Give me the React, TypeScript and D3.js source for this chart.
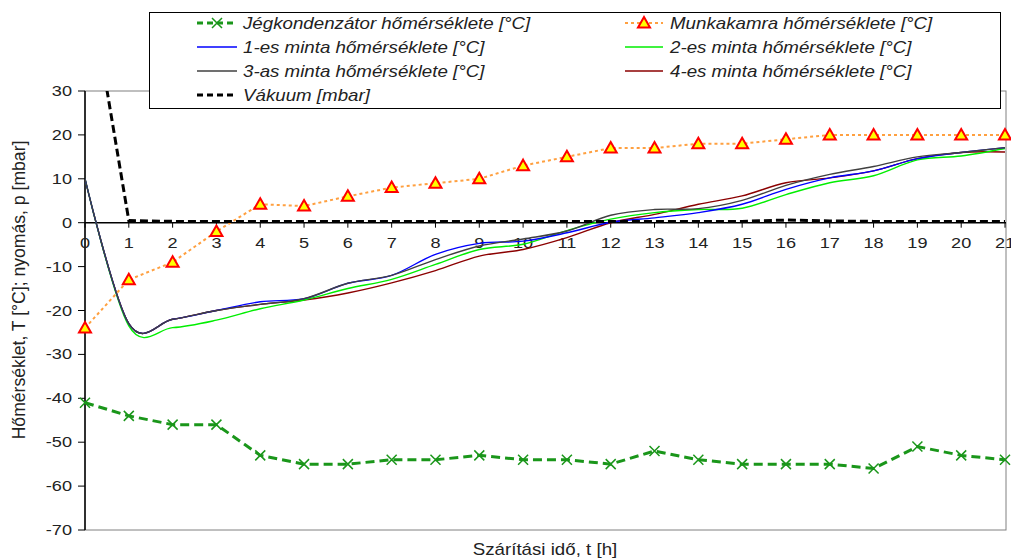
import * as d3 from "d3";

const hours = d3.range(0, 22);

const condenser = [-41, -44, -46, -46, -53, -55, -55, -54, -54, -53, -54, -54, -55, -52, -54, -55, -55, -55, -56, -51, -53, -54];
const chamber = [-24, -13, -9, -2, 4.2, 3.8, 6, 8, 9, 10, 13, 15, 17, 17, 18, 18, 19, 20, 20, 20, 20, 20];
const sample1 = [10, -23, -22, -20, -18, -17.3, -13.8, -12, -7.2, -4.7, -4.2, -2.3, 0.1, 1.1, 2.3, 4.2, 7.6, 10.2, 11.8, 14.6, 16, 17.1];
const sample2 = [10, -23.5, -23.9, -22.2, -19.6, -17.6, -15, -12.9, -9.5, -6.1, -4.9, -1.8, 0.8, 2.3, 3, 3.3, 6.4, 9.1, 10.7, 14.3, 15.2, 16.9];
const sample3 = [10, -23, -22, -20, -18.6, -17.3, -13.8, -12, -8.4, -5.3, -3.7, -1.9, 1.7, 3, 3.2, 5.1, 8.5, 11, 12.8, 15, 16, 17.1];
const sample4 = [10, -23, -22, -20, -18.6, -17.6, -16, -13.7, -10.9, -7.6, -6.1, -3.4, 0, 1.9, 4.2, 6.1, 9.1, 10.2, 11.8, 14.6, 16, 16.1];
const vacuum = [60, 0.5, 0.3, 0.3, 0.3, 0.3, 0.3, 0.3, 0.3, 0.3, 0.3, 0.3, 0.3, 0.3, 0.3, 0.3, 0.6, 0.4, 0.3, 0.3, 0.3, 0.3];

const yTicks = [30, 20, 10, 0, -10, -20, -30, -40, -50, -60, -70];

const labels = {
  condenser: "Jégkondenzátor hőmérséklete [°C]",
  chamber: "Munkakamra hőmérséklete [°C]",
  s1: "1-es minta hőmérséklete [°C]",
  s2: "2-es minta hőmérséklete [°C]",
  s3: "3-as minta hőmérséklete [°C]",
  s4: "4-es minta hőmérséklete [°C]",
  vacuum: "Vákuum [mbar]",
};

const W = 1011;
const H = 558;
const plot = { left: 85, right: 1006, top: 91, bottom: 530 };
const font = "'Liberation Sans', Arial, sans-serif";
const SX = 1.17; // reference text is drawn a bit wide

function SText({ x, y, anchor = "start", size = 16, italic = false, children }: any) {
  return (
    <text
      transform={`translate(${x},${y}) scale(${SX},1)`}
      textAnchor={anchor}
      dominantBaseline="central"
      fontSize={size}
      fontStyle={italic ? "italic" : "normal"}
      fill="#222"
    >
      {children}
    </text>
  );
}

function Cross({ x, y }: { x: number; y: number }) {
  const s = 5;
  return (
    <path
      d={`M${x - s},${y - s}L${x + s},${y + s}M${x - s},${y + s}L${x + s},${y - s}`}
      stroke="#1a961a"
      strokeWidth={1.5}
    />
  );
}

function Tri({ x, y }: { x: number; y: number }) {
  const s = 6;
  return (
    <path
      d={`M${x},${y - s}L${x + s},${y + s * 0.75}L${x - s},${y + s * 0.75}Z`}
      fill="#ffff00"
      stroke="#ff0000"
      strokeWidth={2}
    />
  );
}

export default function App() {
  const x = d3.scaleLinear().domain([0, 21]).range([plot.left, 1005]);
  const y = d3.scaleLinear().domain([-70, 30]).range([plot.bottom, plot.top]);

  const straight = (vals: number[]) =>
    d3.line<number>().x((_, i) => x(hours[i])).y((d) => y(d))(vals) || "";
  const smooth = (vals: number[]) =>
    d3.line<number>().x((_, i) => x(hours[i])).y((d) => y(d)).curve(d3.curveCardinal.tension(0))(vals) || "";

  const samples = [
    { vals: sample4, color: "#8b0000" },
    { vals: sample2, color: "#00ee00" },
    { vals: sample1, color: "#0000ff" },
    { vals: sample3, color: "#404040" },
  ];

  const legendRows = [23, 47, 71, 95];
  const c1 = { x0: 197, x1: 237, tx: 243 };
  const c2 = { x0: 625, x1: 663, tx: 670 };

  return (
    <svg width={W} height={H} style={{ position: "absolute", left: 0, top: 0, background: "#fff" }} fontFamily={font}>
      <defs>
        <clipPath id="plotclip">
          <rect x={plot.left} y={plot.top} width={plot.right - plot.left} height={plot.bottom - plot.top} />
        </clipPath>
      </defs>

      {/* plot border */}
      <rect x={plot.left} y={plot.top} width={plot.right - plot.left} height={plot.bottom - plot.top} fill="none" stroke="#808080" strokeWidth={1} />

      {/* y axis */}
      <line x1={plot.left} x2={plot.left} y1={plot.top} y2={plot.bottom} stroke="#000" strokeWidth={1.5} />
      {yTicks.map((t) => (
        <g key={t}>
          <line x1={plot.left - 7} x2={plot.left} y1={y(t)} y2={y(t)} stroke="#000" />
          <SText x={plot.left - 13} y={y(t)} anchor="end" size={15.5}>{t}</SText>
        </g>
      ))}

      {/* x axis at zero */}
      <line x1={plot.left} x2={plot.right} y1={y(0)} y2={y(0)} stroke="#000" strokeWidth={1.5} />
      {hours.map((h) => (
        <g key={h}>
          <line x1={x(h)} x2={x(h)} y1={y(0)} y2={y(0) + 5} stroke="#000" />
          <SText x={x(h)} y={y(0) + 20} anchor="middle" size={15.5}>{h}</SText>
        </g>
      ))}

      <g clipPath="url(#plotclip)">
        {samples.map((s, i) => (
          <path key={i} d={smooth(s.vals)} fill="none" stroke={s.color} strokeWidth={1.4} />
        ))}
        <path d={straight(chamber)} fill="none" stroke="#ffa040" strokeWidth={2} strokeDasharray="3,3" />
        <path d={straight(condenser)} fill="none" stroke="#1a961a" strokeWidth={3} strokeDasharray="9,5" />
        <path d={straight(vacuum)} fill="none" stroke="#000" strokeWidth={3} strokeDasharray="8,4" />
      </g>
      {condenser.map((v, i) => (
        <Cross key={i} x={x(hours[i])} y={y(v)} />
      ))}
      {chamber.map((v, i) => (
        <Tri key={i} x={x(hours[i])} y={y(v)} />
      ))}

      {/* axis titles */}
      <SText x={545} y={549} anchor="middle" size={16}>Szárítási idő, t [h]</SText>
      <text transform={`translate(19,290) rotate(-90)`} textAnchor="middle" dominantBaseline="central" fontSize={17.6} fill="#222">
        Hőmérséklet, T [°C]; nyomás, p [mbar]
      </text>

      {/* legend */}
      <rect x={149.5} y={12.5} width={851} height={96} fill="#fff" stroke="#000" strokeWidth={1} />
      <line x1={c1.x0} x2={c1.x1} y1={legendRows[0]} y2={legendRows[0]} stroke="#1a961a" strokeWidth={3} strokeDasharray="6,4" />
      <Cross x={(c1.x0 + c1.x1) / 2} y={legendRows[0]} />
      <SText x={c1.tx} y={legendRows[0]} italic>{labels.condenser}</SText>

      <line x1={c1.x0} x2={c1.x1} y1={legendRows[1]} y2={legendRows[1]} stroke="#0000ff" strokeWidth={1.4} />
      <SText x={c1.tx} y={legendRows[1]} italic>{labels.s1}</SText>

      <line x1={c1.x0} x2={c1.x1} y1={legendRows[2]} y2={legendRows[2]} stroke="#404040" strokeWidth={1.4} />
      <SText x={c1.tx} y={legendRows[2]} italic>{labels.s3}</SText>

      <line x1={c1.x0} x2={c1.x1} y1={legendRows[3]} y2={legendRows[3]} stroke="#000" strokeWidth={3} strokeDasharray="6,4" />
      <SText x={c1.tx} y={legendRows[3]} italic>{labels.vacuum}</SText>

      <line x1={c2.x0} x2={c2.x1} y1={legendRows[0]} y2={legendRows[0]} stroke="#ffa040" strokeWidth={2} strokeDasharray="3,3" />
      <Tri x={(c2.x0 + c2.x1) / 2} y={legendRows[0]} />
      <SText x={c2.tx} y={legendRows[0]} italic>{labels.chamber}</SText>

      <line x1={c2.x0} x2={c2.x1} y1={legendRows[1]} y2={legendRows[1]} stroke="#00ee00" strokeWidth={1.4} />
      <SText x={c2.tx} y={legendRows[1]} italic>{labels.s2}</SText>

      <line x1={c2.x0} x2={c2.x1} y1={legendRows[2]} y2={legendRows[2]} stroke="#8b0000" strokeWidth={1.4} />
      <SText x={c2.tx} y={legendRows[2]} italic>{labels.s4}</SText>
    </svg>
  );
}
